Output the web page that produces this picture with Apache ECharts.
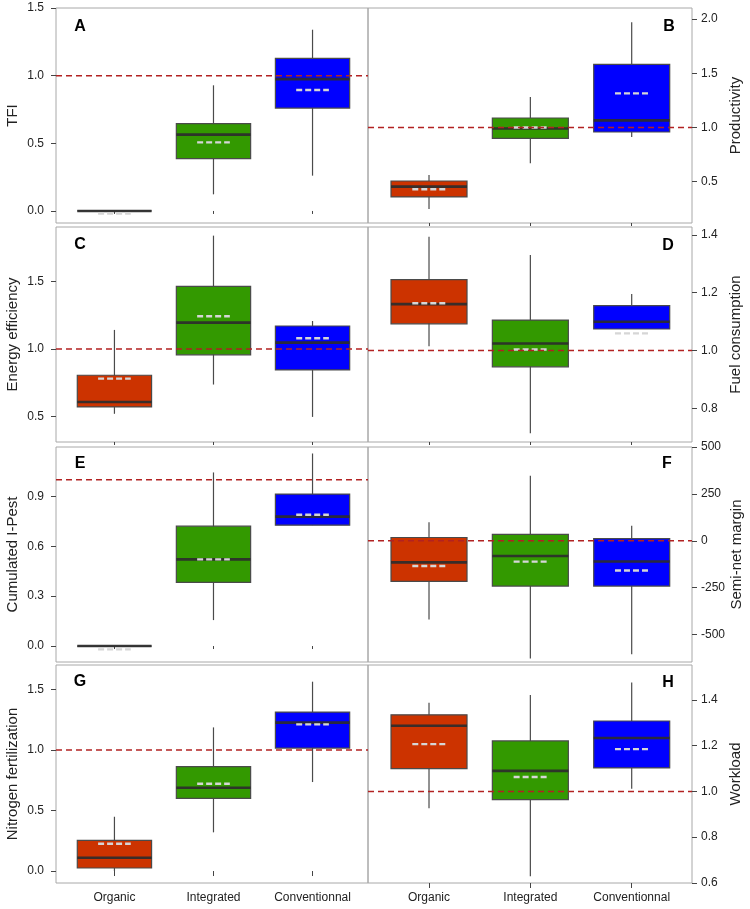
<!DOCTYPE html>
<html>
<head>
<meta charset="utf-8">
<script src="https://cdn.jsdelivr.net/npm/echarts@6/dist/echarts.min.js"></script>
<style>
html,body{margin:0;padding:0;background:#fff;}
#chart{width:750px;height:909px;}
</style>
</head>
<body>
<div id="chart"></div>
<script>
// ---- categories ----
var categories = ['Organic', 'Integrated', 'Conventionnal'];
var boxColors = ['#CC3300', '#339900', '#0000FF'];

// ---- panel titles / axis names ----
var panelLetters = ['A', 'B', 'C', 'D', 'E', 'F', 'G', 'H'];
var axisNames = ['TFI', 'Productivity', 'Energy efficiency', 'Fuel consumption',
                 'Cumulated I-Pest', 'Semi-net margin', 'Nitrogen fertilization', 'Workload'];

// ---- values, order: Organic, Integrated, Conventionnal ----
// A: TFI
var A_low  = [0, 0.123, 0.261];
var A_q1   = [0, 0.387, 0.761];
var A_med  = [0, 0.564, 0.975];
var A_q3   = [0, 0.645, 1.128];
var A_high = [0, 0.929, 1.340];
var A_mean = [-0.02, 0.507, 0.894];
// B: Productivity
var B_low  = [0.248, 0.670, 0.911];
var B_q1   = [0.359, 0.899, 0.958];
var B_med  = [0.454, 0.990, 1.065];
var B_q3   = [0.506, 1.087, 1.581];
var B_high = [0.562, 1.280, 1.970];
var B_mean = [0.430, 1.000, 1.314];
// C: Energy efficiency
var C_low  = [0.519, 0.736, 0.496];
var C_q1   = [0.570, 0.956, 0.844];
var C_med  = [0.607, 1.195, 1.047];
var C_q3   = [0.805, 1.464, 1.170];
var C_high = [1.141, 1.840, 1.207];
var C_mean = [0.780, 1.242, 1.079];
// D: Fuel consumption
var D_low  = [1.014, 0.713, 1.074];
var D_q1   = [1.092, 0.943, 1.074];
var D_med  = [1.160, 1.024, 1.099];
var D_q3   = [1.245, 1.105, 1.155];
var D_high = [1.393, 1.330, 1.195];
var D_mean = [1.163, 1.003, 1.059];
// E: Cumulated I-Pest
var E_low  = [0, 0.156, 0.727];
var E_q1   = [0, 0.383, 0.727];
var E_med  = [0, 0.521, 0.778];
var E_q3   = [0, 0.721, 0.914];
var E_high = [0, 1.044, 1.158];
var E_mean = [-0.02, 0.521, 0.790];
// F: Semi-net margin
var F_low  = [-419, -627, -605];
var F_q1   = [-216, -241, -241];
var F_med  = [-115, -81, -110];
var F_q3   = [18, 35, 12];
var F_high = [99, 347, 81];
var F_mean = [-134, -111, -158];
// G: Nitrogen fertilization
var G_low  = [0, 0.320, 0.736];
var G_q1   = [0.025, 0.601, 1.017];
var G_med  = [0.110, 0.689, 1.227];
var G_q3   = [0.254, 0.863, 1.315];
var G_high = [0.449, 1.188, 1.566];
var G_mean = [0.226, 0.722, 1.213];
// H: Workload
var H_low  = [0.926, 0.629, 1.012];
var H_q1   = [1.100, 0.964, 1.103];
var H_med  = [1.287, 1.090, 1.234];
var H_q3   = [1.335, 1.221, 1.308];
var H_high = [1.388, 1.422, 1.476];
var H_mean = [1.207, 1.063, 1.185];

// reference lines
var refValues = [1, 1, 1, 1, 1, 0, 1, 1];

// y tick labels
var A_ticks = [0, 0.5, 1.0, 1.5];
var B_ticks = [0.5, 1.0, 1.5, 2.0];
var C_ticks = [0.5, 1.0, 1.5];
var D_ticks = [0.8, 1.0, 1.2, 1.4];
var E_ticks = [0, 0.3, 0.6, 0.9];
var F_ticks = [-500, -250, 0, 250, 500];
var G_ticks = [0, 0.5, 1.0, 1.5];
var H_ticks = [0.6, 0.8, 1.0, 1.2, 1.4];

// ---- layout (not data) ----
var yRanges = [[-0.089, 1.5005], [0.119, 2.101], [0.31, 1.904], [0.683, 1.427],
               [-0.096, 1.197], [-646, 500.5], [-0.099, 1.704], [0.5995, 1.553]];
var tickDecimals = [1, 1, 1, 1, 1, 0, 1, 1];
var rows = [{top: 8, h: 215}, {top: 227, h: 215}, {top: 447, h: 215}, {top: 665, h: 218}];
var cols = [{left: 56, w: 312, xmin: 0.41, xmax: 3.56}, {left: 368, w: 324, xmin: 0.398, xmax: 3.595}];
var letterPos = [[80, 27], [669, 27], [80, 245], [668, 246], [80, 464], [667, 464], [80, 682], [668, 683]];

var panels = [
  [A_low, A_q1, A_med, A_q3, A_high, A_mean, A_ticks],
  [B_low, B_q1, B_med, B_q3, B_high, B_mean, B_ticks],
  [C_low, C_q1, C_med, C_q3, C_high, C_mean, C_ticks],
  [D_low, D_q1, D_med, D_q3, D_high, D_mean, D_ticks],
  [E_low, E_q1, E_med, E_q3, E_high, E_mean, E_ticks],
  [F_low, F_q1, F_med, F_q3, F_high, F_mean, F_ticks],
  [G_low, G_q1, G_med, G_q3, G_high, G_mean, G_ticks],
  [H_low, H_q1, H_med, H_q3, H_high, H_mean, H_ticks]
];

var FONT = 'Liberation Sans, Arial, sans-serif';
var BOX_W = 0.75, MEAN_W = 0.33;

function renderBox(params, api) {
  var x = api.value(0);
  var ci = api.value(7);
  var pLow = api.coord([x, api.value(1)]);
  var pQ1 = api.coord([x, api.value(2)]);
  var pMed = api.coord([x, api.value(3)]);
  var pQ3 = api.coord([x, api.value(4)]);
  var pHigh = api.coord([x, api.value(5)]);
  var pMean = api.coord([x, api.value(6)]);
  var hw = api.size([BOX_W, 0])[0] / 2;
  var mw = api.size([MEAN_W, 0])[0] / 2;
  var cx = pMed[0];
  return {
    type: 'group',
    children: [
      {type: 'line', shape: {x1: cx, y1: pLow[1], x2: cx, y2: pHigh[1]},
       style: {stroke: '#4a4a4a', lineWidth: 1.2}},
      {type: 'rect', shape: {x: cx - hw, y: pQ3[1], width: hw * 2, height: Math.max(pQ1[1] - pQ3[1], 0)},
       style: {fill: boxColors[ci], stroke: '#4a4a4a', lineWidth: 1.2}},
      {type: 'line', shape: {x1: cx - hw, y1: pMed[1], x2: cx + hw, y2: pMed[1]},
       style: {stroke: 'rgba(45,45,45,0.92)', lineWidth: 2.6}},
      {type: 'line', shape: {x1: cx - mw, y1: pMean[1], x2: cx + mw, y2: pMean[1]},
       style: {stroke: '#d6d6d6', lineWidth: 2.4, lineDash: [6, 3]}}
    ]
  };
}

var grids = [], xAxes = [], yAxes = [], series = [], graphics = [];
for (var p = 0; p < 8; p++) {
  var r = rows[Math.floor(p / 2)], c = cols[p % 2];
  var isRight = (p % 2) === 1;
  var isBottom = p >= 6;
  var d = panels[p];
  grids.push({left: c.left, top: r.top, width: c.w, height: r.h,
              show: true, borderColor: '#a8a8a8', borderWidth: 1, backgroundColor: 'transparent'});
  xAxes.push({
    type: 'value', gridIndex: p, min: c.xmin, max: c.xmax,
    splitLine: {show: false}, axisLine: {show: false},
    axisTick: {show: true, inside: false, length: isBottom ? 5 : 3, customValues: [1, 2, 3],
               lineStyle: {color: '#444', width: 1}},
    axisLabel: {show: isBottom, customValues: [1, 2, 3], margin: 9,
                fontFamily: FONT, fontSize: 12, color: '#222',
                formatter: function (v) { return categories[Math.round(v) - 1] || ''; }}
  });
  (function (dec) {
    yAxes.push({
      type: 'value', gridIndex: p, min: yRanges[p][0], max: yRanges[p][1],
      position: isRight ? 'right' : 'left',
      splitLine: {show: false}, axisLine: {show: false},
      axisTick: {show: true, inside: false, length: 5, customValues: d[6],
                 lineStyle: {color: '#444', width: 1}},
      axisLabel: {customValues: d[6], margin: isRight ? 9 : 12, fontFamily: FONT, fontSize: 12, color: '#222',
                  showMinLabel: true, showMaxLabel: true,
                  formatter: function (v) { return dec === 0 ? String(Math.round(v)) : v.toFixed(dec); }},
      name: axisNames[p], nameLocation: 'middle', nameRotate: 90, nameGap: isRight ? 36 : 36,
      nameTextStyle: {fontFamily: FONT, fontSize: 15, color: '#222'}
    });
  })(tickDecimals[p]);
  var data = [];
  for (var i = 0; i < 3; i++) {
    data.push([i + 1, d[0][i], d[1][i], d[2][i], d[3][i], d[4][i], d[5][i], i]);
  }
  series.push({
    type: 'custom', xAxisIndex: p, yAxisIndex: p, renderItem: renderBox,
    encode: {x: 0, y: [1, 2, 3, 4, 5, 6]}, data: data, clip: true, z: 2, silent: true
  });
  series.push({
    type: 'line', xAxisIndex: p, yAxisIndex: p, symbol: 'none', silent: true, z: 5,
    data: [[c.xmin, refValues[p]], [c.xmax, refValues[p]]],
    lineStyle: {color: '#B22222', width: 1.5, type: [6, 4]}
  });
  graphics.push({
    type: 'text', x: letterPos[p][0], y: letterPos[p][1], z: 10,
    style: {text: panelLetters[p], font: 'bold 16px ' + FONT, fill: '#000',
            textAlign: 'center', textVerticalAlign: 'middle', align: 'center', verticalAlign: 'middle'}
  });
}

var chart = echarts.init(document.getElementById('chart'), null, {renderer: 'canvas'});
chart.setOption({
  backgroundColor: '#fff',
  animation: false,
  grid: grids,
  xAxis: xAxes,
  yAxis: yAxes,
  series: series,
  graphic: graphics
});
</script>
</body>
</html>
